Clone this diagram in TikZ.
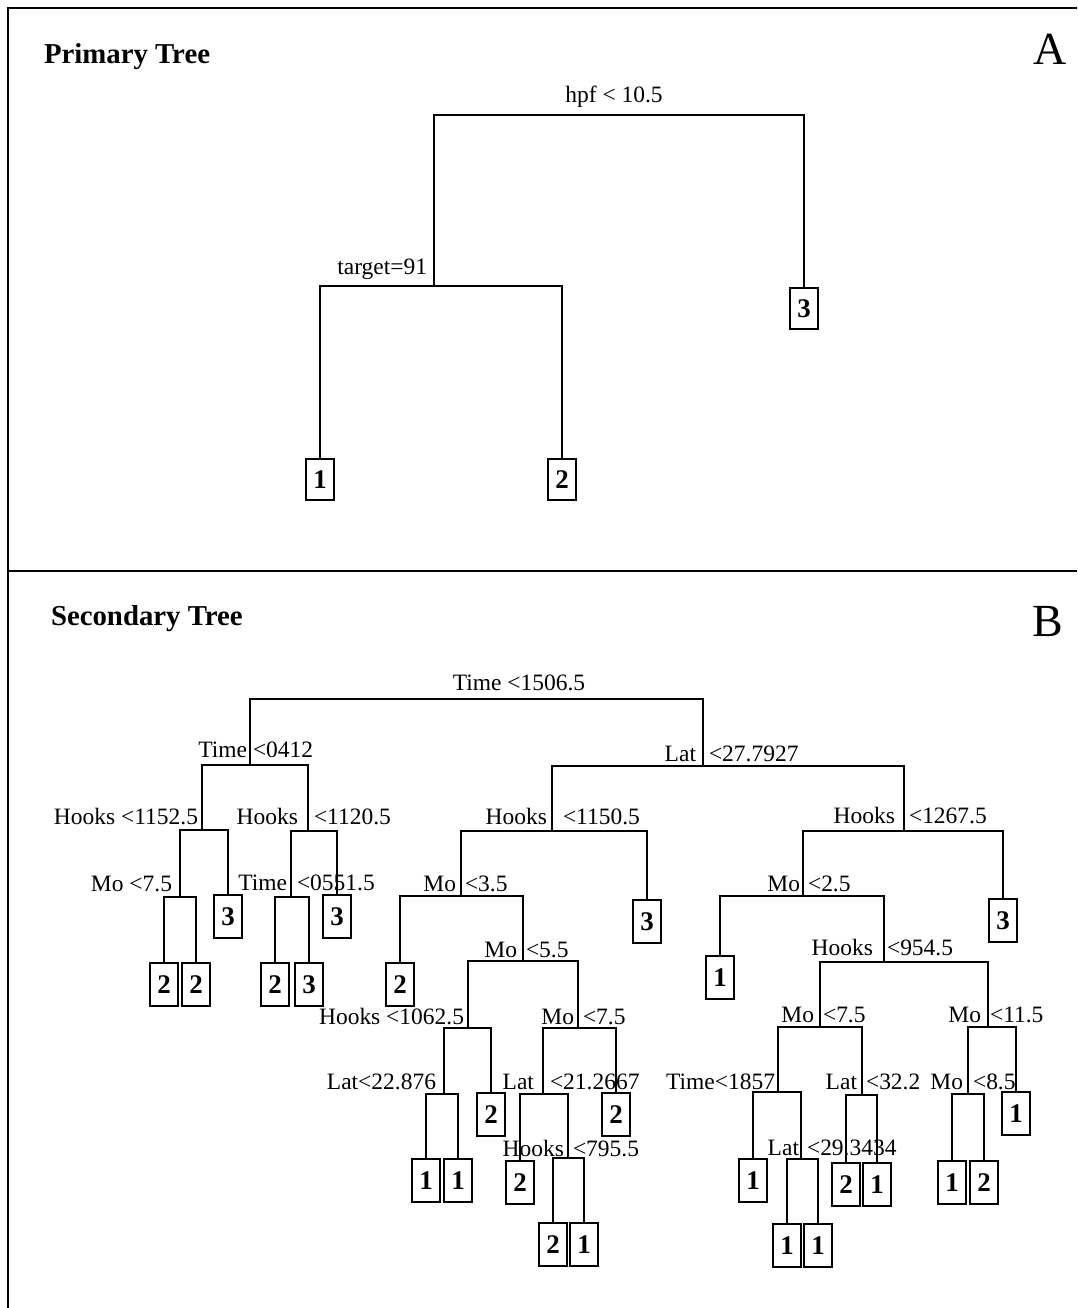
\documentclass[tikz,border=0pt]{standalone}
\usepackage{fontspec}
\setmainfont{Liberation Serif}
\begin{document}
\begin{tikzpicture}[x=0.75pt,y=-0.75pt,line width=1.5pt,
  lab/.style={font=\fontsize{17.6}{20}\selectfont,inner sep=0pt,anchor=base},
  labL/.style={lab,anchor=base east},
  labR/.style={lab,anchor=base west},
  leafbox/.style={draw,line width=1.5pt,minimum width=21pt,minimum height=32pt,inner sep=0pt,anchor=north,font=\fontsize{20.2}{22}\selectfont\bfseries},
  pleaf/.style={leafbox,minimum height=30.5pt},
  title/.style={font=\fontsize{21.6}{24}\selectfont\bfseries,inner sep=0pt,anchor=base west},
  panel/.style={font=\fontsize{34.5}{38}\selectfont,inner sep=0pt,anchor=base},
  edge/.style={line width=1.5pt}]
\useasboundingbox (0,0) rectangle (1077,1308);
% frame
\draw (8,1308) -- (8,8) -- (1077,8);
\draw (8,571) -- (1077,571);

% ---------- Primary tree ----------
\node[title] (t1) at (43,64) {Primary Tree};
\node[panel] (pA) at (1050,65) {A};
\coordinate (pr) at (614,115);
\coordinate (p2) at (434,286);
\node[lab] (plr) at (614,103) {hpf < 10.5};
\node[labL] (pl2lab) at (428,275) {target=91};
\node[pleaf] (pl1) at (320,458) {1};
\node[pleaf] (pl2) at (562,458) {2};
\node[pleaf] (pl3) at (804,287) {3};
\draw[edge] (pr) -| (p2);
\draw[edge] (pr) -| (pl3.north);
\draw[edge] (p2) -| (pl1.north);
\draw[edge] (p2) -| (pl2.north);

% ---------- Secondary tree ----------
\node[title] (t2) at (50,625) {Secondary Tree};
\node[panel] (pB) at (1048,636) {B};

% split points
\coordinate (s1) at (519,699);
\coordinate (s2) at (250,765);
\coordinate (s4) at (202,830);
\coordinate (s8) at (180,897);
\coordinate (s5) at (308,831);
\coordinate (s10) at (291,897);
\coordinate (s3) at (703,766);
\coordinate (s6) at (552,831);
\coordinate (s12) at (461,896);
\coordinate (s13) at (523,961);
\coordinate (s26) at (468,1028);
\coordinate (s52) at (444,1094);
\coordinate (s27) at (578,1028);
\coordinate (s54) at (543,1094);
\coordinate (s109) at (568,1158);
\coordinate (s7) at (904,831);
\coordinate (s14) at (803,896);
\coordinate (s29) at (884,962);
\coordinate (s58) at (820,1027);
\coordinate (s116) at (778,1092);
\coordinate (s233) at (801,1159);
\coordinate (s117) at (862,1095);
\coordinate (s59) at (988,1027);
\coordinate (s118) at (968,1094);

% labels
\node[lab] at (519,690) {Time <1506.5};
\node[labL] at (248,757) {Time}; \node[labR] at (252,757) {<0412};
\node[labL] at (199,824) {Hooks <1152.5};
\node[labL] at (173,891) {Mo <7.5};
\node[labL] at (299,824) {Hooks}; \node[labR] at (313,824) {<1120.5};
\node[labL] at (288,890) {Time}; \node[labR] at (296,890) {<0551.5};
\node[labL] at (697,761) {Lat}; \node[labR] at (708,761) {<27.7927};
\node[labL] at (548,824) {Hooks}; \node[labR] at (562,824) {<1150.5};
\node[labL] at (457,891) {Mo}; \node[labR] at (464,891) {<3.5};
\node[labL] at (518,957) {Mo}; \node[labR] at (525,957) {<5.5};
\node[labL] at (465,1024) {Hooks <1062.5};
\node[labL] at (437,1089) {Lat<22.876};
\node[labL] at (575,1024) {Mo}; \node[labR] at (582,1024) {<7.5};
\node[labL] at (535,1089) {Lat}; \node[labR] at (549,1089) {<21.2667};
\node[labL] at (565,1156) {Hooks}; \node[labR] at (572,1156) {<795.5};
\node[labL] at (896,823) {Hooks}; \node[labR] at (908,823) {<1267.5};
\node[labL] at (801,891) {Mo}; \node[labR] at (807,891) {<2.5};
\node[labL] at (874,955) {Hooks}; \node[labR] at (886,955) {<954.5};
\node[labL] at (815,1022) {Mo}; \node[labR] at (822,1022) {<7.5};
\node[labL] at (776,1089) {Time<1857};
\node[labL] at (800,1155) {Lat}; \node[labR] at (806,1155) {<29.3434};
\node[labL] at (858,1089) {Lat}; \node[labR] at (865,1089) {<32.2};
\node[labL] at (982,1022) {Mo}; \node[labR] at (989,1022) {<11.5};
\node[labL] at (964,1089) {Mo}; \node[labR] at (972,1089) {<8.5};

% leaves
\node[leafbox] (l16) at (164,962) {2};
\node[leafbox] (l17) at (196,962) {2};
\node[leafbox] (l9) at (228,894) {3};
\node[leafbox] (l20) at (275,962) {2};
\node[leafbox] (l21) at (309,962) {3};
\node[leafbox] (l11) at (337,894) {3};
\node[leafbox] (l24) at (400,962) {2};
\node[leafbox] (l104) at (426,1158) {1};
\node[leafbox] (l105) at (458,1158) {1};
\node[leafbox] (l53) at (491,1092) {2};
\node[leafbox] (l108) at (520,1160) {2};
\node[leafbox] (l218) at (553,1222) {2};
\node[leafbox] (l219) at (584,1222) {1};
\node[leafbox] (l55) at (616,1092) {2};
\node[leafbox] (l13) at (647,899) {3};
\node[leafbox] (l28) at (720,955) {1};
\node[leafbox] (l232) at (753,1158) {1};
\node[leafbox] (l466) at (787,1223) {1};
\node[leafbox] (l467) at (818,1223) {1};
\node[leafbox] (l234) at (846,1162) {2};
\node[leafbox] (l235) at (877,1162) {1};
\node[leafbox] (l236) at (952,1160) {1};
\node[leafbox] (l237) at (984,1160) {2};
\node[leafbox] (l119) at (1016,1091) {1};
\node[leafbox] (l15) at (1003,898) {3};

% connectors between splits
\foreach \p/\c in {s1/s2,s1/s3,s2/s4,s2/s5,s4/s8,s5/s10,s3/s6,s3/s7,s6/s12,s12/s13,
  s13/s26,s13/s27,s26/s52,s27/s54,s54/s109,s7/s14,s14/s29,s29/s58,s29/s59,
  s58/s116,s58/s117,s116/s233,s59/s118}
  \draw[edge] (\p) -| (\c);
% connectors to leaves
\foreach \p/\c in {s8/l16,s8/l17,s4/l9,s10/l20,s10/l21,s5/l11,s12/l24,s52/l104,s52/l105,
  s26/l53,s54/l108,s109/l218,s109/l219,s27/l55,s6/l13,s14/l28,s116/l232,s233/l466,
  s233/l467,s117/l234,s117/l235,s118/l236,s118/l237,s59/l119,s7/l15}
  \draw[edge] (\p) -| (\c.north);
\end{tikzpicture}
\end{document}
